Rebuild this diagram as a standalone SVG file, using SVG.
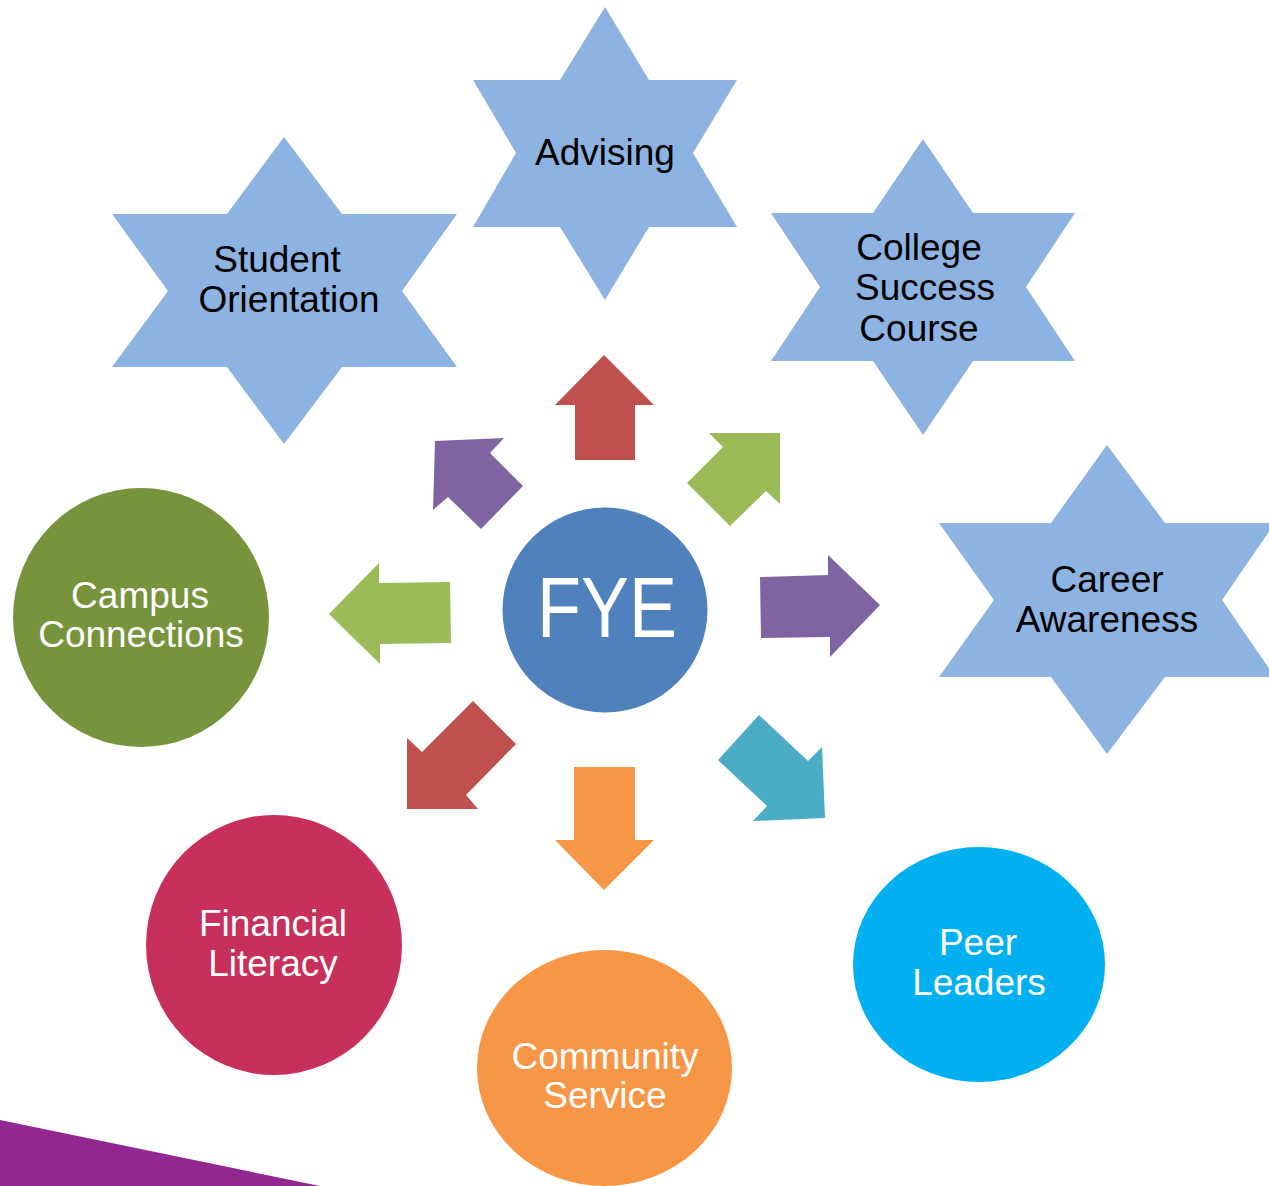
<svg xmlns="http://www.w3.org/2000/svg" width="1269" height="1186" viewBox="0 0 1269 1186">
<style>
.star{fill:#8DB3E2}
.dark{font-family:"Liberation Sans",Arial,sans-serif;font-size:37px;fill:#000;text-anchor:middle}
.light{font-family:"Liberation Sans",Arial,sans-serif;font-size:37px;fill:#fff;text-anchor:middle}
</style>
<rect width="1269" height="1186" fill="#fff"/>
<polygon points="0,1120 320,1186 0,1186" fill="#92278F"/>
<g id="connectors">
<polygon points="604,355 654,405 635,405 635,460 575,460 575,405 555,405" fill="#C0504D"/>
<polygon points="709,433 780,433 780,504 766,491 730,526 687,483 723,447" fill="#9BBB59"/>
<polygon points="760,577 828,575 828,555 880,605 830,657 830,637 761,638" fill="#8064A2"/>
<polygon points="759,715 808,761 822,747 825,818 753,821 767,806 718,760" fill="#4BACC6"/>
<polygon points="574,767 635,767 635,840 654,840 604,890 555,840 574,840" fill="#F79646"/>
<polygon points="473,701 516,744 466,795 478,809 407,809 407,738 422,752" fill="#C0504D"/>
<polygon points="450,582 379,583 379,563 329,614 380,664 380,644 451,643" fill="#9BBB59"/>
<polygon points="435,441 504,438 490,453 523,486 481,529 448,497 433,510" fill="#8064A2"/>
</g>
<g id="advising">
<polygon class="star" points="605,7 649,80 737,80 693,153 737,227 649,227 605,300 560,227 473,227 516,153 473,80 560,80"/>
<text class="dark" x="605" y="165">Advising</text>
</g>
<g id="student-orientation">
<polygon class="star" points="284,137 342,214 457,214 402,291 457,367 342,367 284,444 227,367 112,367 168,291 112,214 227,214"/>
<text class="dark" x="277" y="272">Student</text>
<text class="dark" x="289" y="312">Orientation</text>
</g>
<g id="college-success-course">
<polygon class="star" points="923,139 973,213 1075,213 1026,287 1075,361 973,361 923,435 873,361 771,361 820,287 771,213 873,213"/>
<text class="dark" x="919" y="260">College</text>
<text class="dark" x="925" y="300">Success</text>
<text class="dark" x="919" y="341">Course</text>
</g>
<g id="career-awareness">
<polygon class="star" points="1107,445 1165,523 1275,523 1222,600 1275,677 1165,677 1107,754 1051,677 939,677 994,600 939,523 1051,523"/>
<text class="dark" x="1107" y="592">Career</text>
<text class="dark" x="1107" y="632">Awareness</text>
</g>
<g id="fye">
<circle cx="605" cy="610" r="102.5" fill="#4F81BD"/>
<text x="607" y="637" font-family="Liberation Sans, Arial, sans-serif" font-size="85" fill="#fff" text-anchor="middle" textLength="140" lengthAdjust="spacingAndGlyphs">FYE</text>
</g>
<g id="campus-connections">
<ellipse cx="141" cy="617.5" rx="128" ry="129.5" fill="#77933C"/>
<text class="light" x="140" y="608">Campus</text>
<text class="light" x="141" y="647">Connections</text>
</g>
<g id="financial-literacy">
<ellipse cx="274" cy="945" rx="128" ry="130" fill="#C6305A"/>
<text class="light" x="273" y="936">Financial</text>
<text class="light" x="273" y="976">Literacy</text>
</g>
<g id="community-service">
<ellipse cx="604.5" cy="1068" rx="127.5" ry="118" fill="#F79646"/>
<text class="light" x="605" y="1069">Community</text>
<text class="light" x="605" y="1108">Service</text>
</g>
<g id="peer-leaders">
<ellipse cx="979" cy="964.5" rx="126" ry="117.5" fill="#00B0F0"/>
<text class="light" x="978" y="955">Peer</text>
<text class="light" x="979" y="995">Leaders</text>
</g>
</svg>
